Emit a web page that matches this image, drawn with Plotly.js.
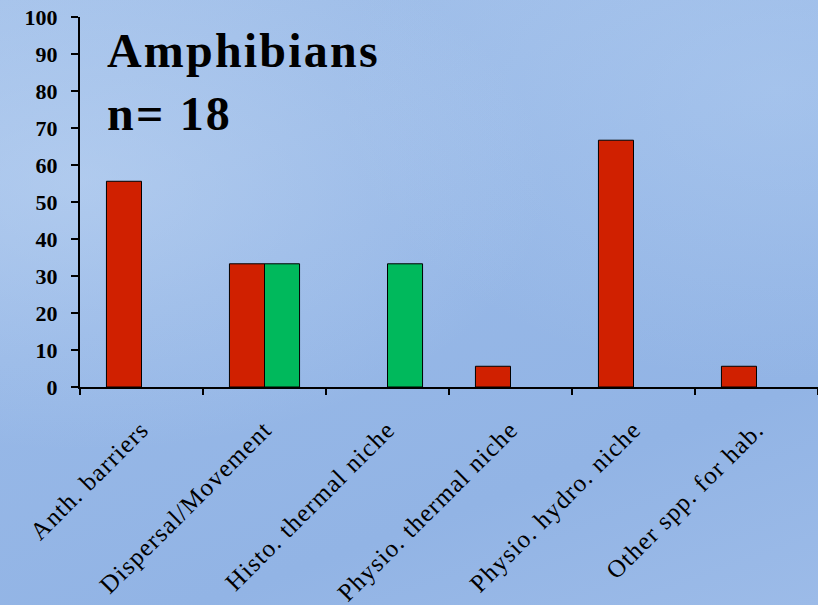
<!DOCTYPE html>
<html>
<head>
<meta charset="utf-8">
<script src="https://cdn.plot.ly/plotly-3.0.1.min.js"></script>
<style>
html,body{margin:0;padding:0;}
body{width:818px;height:605px;overflow:hidden;
background:
 radial-gradient(ellipse at 10% 30%, rgba(200,220,245,0.45) 0%, rgba(200,220,245,0) 45%),
 radial-gradient(ellipse at 95% 15%, rgba(190,215,245,0.35) 0%, rgba(190,215,245,0) 40%),
 linear-gradient(160deg, #a3c1ea 0%, #97b8e7 40%, #92b4e5 75%, #9cbbe8 100%);}
#chart{width:818px;height:605px;}
.annotation-text{letter-spacing:2.2px;}
.xtick text{letter-spacing:1.2px;}
</style>
</head>
<body>
<div id="chart"></div>
<script>
const categories = ["Anth. barriers", "Dispersal/Movement", "Histo. thermal niche", "Physio. thermal niche", "Physio. hydro. niche", "Other spp. for hab."];
const redValues = [55.6, 33.3, null, 5.6, 66.7, 5.6];
const greenValues = [null, 33.3, 33.3, null, null, null];
const yTicks = [0, 10, 20, 30, 40, 50, 60, 70, 80, 90, 100];
const titleLine1 = "Amphibians";
const titleLine2 = "n= 18";

const serif = "Liberation Serif, Times New Roman, serif";

const traces = [
  {type: "bar", x: categories, y: redValues, name: "red",
   marker: {color: "#d02000", line: {color: "#000", width: 1}}, hoverinfo: "skip"},
  {type: "bar", x: categories, y: greenValues, name: "green",
   marker: {color: "#00b95c", line: {color: "#000", width: 1}}, hoverinfo: "skip"}
];

const layout = {
  width: 818, height: 605,
  margin: {l: 80, r: 0, t: 17, b: 218, pad: 0},
  paper_bgcolor: "rgba(0,0,0,0)",
  plot_bgcolor: "rgba(0,0,0,0)",
  showlegend: false,
  barmode: "group",
  bargap: 0.43,
  bargroupgap: 0,
  xaxis: {
    type: "category",
    showgrid: false, zeroline: false,
    showline: true, linecolor: "#000", linewidth: 2,
    ticks: "outside", ticklen: 6, tickwidth: 2, tickcolor: "#000",
    tickson: "boundaries",
    tickangle: -45,
    ticklabelstandoff: 16,
    tickfont: {family: serif, size: 25, color: "#000"},
    automargin: false
  },
  yaxis: {
    range: [0, 100],
    tickvals: yTicks,
    ticktext: yTicks.map(String),
    showgrid: false, zeroline: false,
    showline: true, linecolor: "#000", linewidth: 2,
    ticks: "outside", ticklen: 7, tickwidth: 2, tickcolor: "#000",
    ticklabelstandoff: 9,
    tickfont: {family: serif, size: 22, color: "#000", weight: "bold"},
    automargin: false
  },
  annotations: [
    {xref: "paper", yref: "paper", x: 0.034, y: 0.91, xanchor: "left", yanchor: "middle",
     text: "<b>" + titleLine1 + "</b>", showarrow: false,
     font: {family: serif, size: 48, color: "#000"}},
    {xref: "paper", yref: "paper", x: 0.034, y: 0.74, xanchor: "left", yanchor: "middle",
     text: "<b>" + titleLine2 + "</b>", showarrow: false,
     font: {family: serif, size: 48, color: "#000"}}
  ]
};

Plotly.newPlot("chart", traces, layout, {staticPlot: true, displayModeBar: false});
</script>
</body>
</html>
